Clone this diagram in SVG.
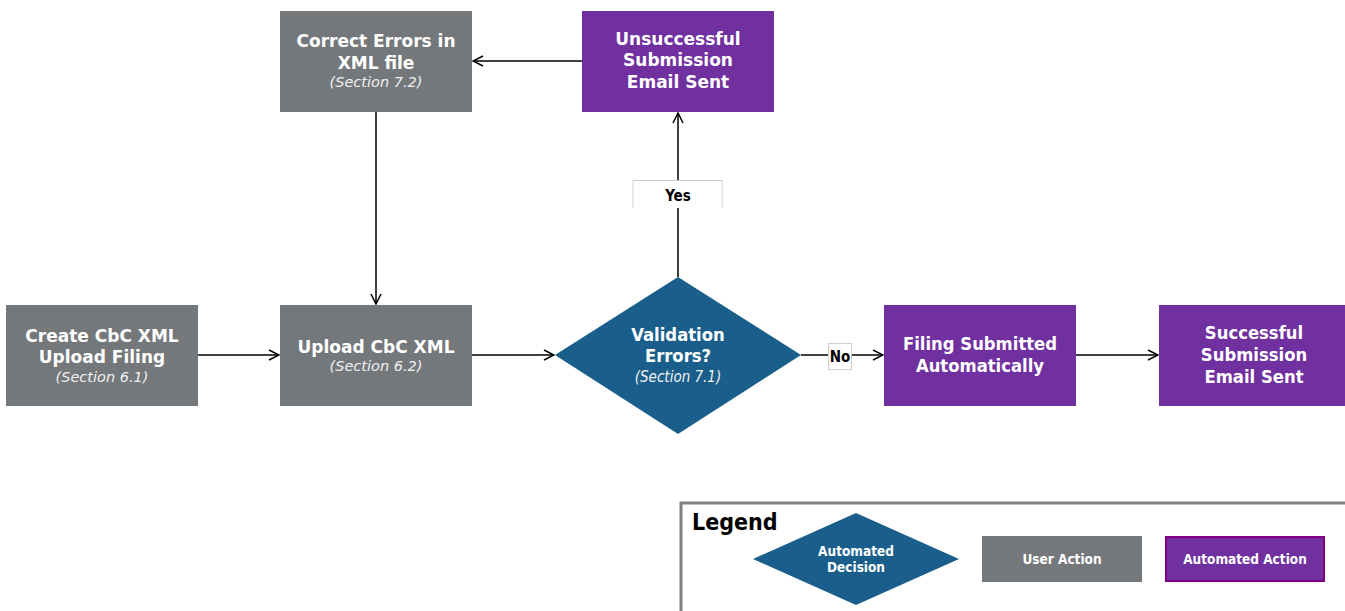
<svg xmlns="http://www.w3.org/2000/svg" width="1345" height="611" viewBox="0 0 1345 611">
<style>
.user{fill:#75787b}
.auto{fill:#7030a0}
.dec{fill:#1a5f8b}
.t{font-family:"DejaVu Sans","Noto Sans",sans-serif;font-weight:bold;font-size:17px;fill:#fff;text-anchor:middle}
.c{font-family:"DejaVu Sans Condensed","DejaVu Sans",sans-serif;font-stretch:condensed;font-weight:bold;font-size:18.3px;fill:#fff;text-anchor:middle}
.s{font-family:"DejaVu Sans","Noto Sans",sans-serif;font-style:italic;font-size:14.5px;fill:#f0f0f0;text-anchor:middle}
.sc{font-family:"DejaVu Sans Condensed","DejaVu Sans",sans-serif;font-stretch:condensed;font-style:italic;font-size:15px;fill:#f0f0f0;text-anchor:middle}
.lbl{font-family:"DejaVu Sans Condensed","DejaVu Sans",sans-serif;font-weight:bold;font-size:15px;fill:#000;text-anchor:middle}
.conn{stroke:#000;stroke-width:1.5;fill:none;marker-end:url(#arr)}
.lg{font-family:"DejaVu Sans Condensed","DejaVu Sans",sans-serif;font-stretch:condensed;font-weight:bold;font-size:13.5px;fill:#fff;text-anchor:middle}
</style>
<defs>
<marker id="arr" viewBox="0 0 12 12" refX="11" refY="6" markerWidth="12" markerHeight="12" markerUnits="userSpaceOnUse" orient="auto">
<path d="M1,1 L11,6 L1,11" fill="none" stroke="#000" stroke-width="1.5"/>
</marker>
</defs>
<rect width="1345" height="611" fill="#fff"/>
<g id="connectors">
<path class="conn" d="M582,61 H473"/>
<path class="conn" d="M376,112 V304"/>
<path class="conn" d="M198,355 H279"/>
<path class="conn" d="M472,355 H554"/>
<path class="conn" d="M678,277 V113"/>
<path class="conn" d="M801,355 H883"/>
<path class="conn" d="M1076,355 H1158"/>
</g>
<g id="label-yes">
<path d="M633,208 V180.5 H722 V208" fill="#fff" stroke="#c8c8c8" stroke-width="1"/>
<rect x="633.5" y="181" width="88" height="27" fill="#fff"/>
<text class="lbl" x="678" y="201">Yes</text>
</g>
<g id="label-no">
<rect x="828.5" y="343.5" width="23" height="26" fill="#fff" stroke="#d0d0d0" stroke-width="1"/>
<text class="lbl" x="840" y="362">No</text>
</g>
<g id="correct-errors">
<rect class="user" x="280" y="11" width="192" height="101"/>
<text class="t" x="376" y="47">Correct Errors in</text>
<text class="t" x="376" y="69">XML file</text>
<text class="s" x="376" y="87">(Section 7.2)</text>
</g>
<g id="unsuccessful">
<rect class="auto" x="582" y="11" width="192" height="101"/>
<text class="t" x="678" y="45">Unsuccessful</text>
<text class="t" x="678" y="66">Submission</text>
<text class="t" x="678" y="88">Email Sent</text>
</g>
<g id="create">
<rect class="user" x="6" y="305" width="192" height="101"/>
<text class="t" x="102" y="342">Create CbC XML</text>
<text class="t" x="102" y="363">Upload Filing</text>
<text class="s" x="102" y="382">(Section 6.1)</text>
</g>
<g id="upload">
<rect class="user" x="280" y="305" width="192" height="101"/>
<text class="t" x="376" y="353">Upload CbC XML</text>
<text class="s" x="376" y="371">(Section 6.2)</text>
</g>
<g id="validation">
<polygon class="dec" points="678,277 801,355 678,434 555,355"/>
<text class="c" x="678" y="341">Validation</text>
<text class="c" x="678" y="362">Errors?</text>
<text class="sc" x="678" y="382">(Section 7.1)</text>
</g>
<g id="filing">
<rect class="auto" x="884" y="305" width="192" height="101"/>
<text class="c" x="980" y="350">Filing Submitted</text>
<text class="c" x="980" y="372">Automatically</text>
</g>
<g id="successful">
<rect class="auto" x="1159" y="305" width="187" height="101"/>
<text class="c" x="1254" y="339">Successful</text>
<text class="c" x="1254" y="361">Submission</text>
<text class="c" x="1254" y="383">Email Sent</text>
</g>
<g id="legend">
<path d="M681,612 V503 H1346" fill="none" stroke="#7f7f7f" stroke-width="3"/>
<text x="692" y="530" font-family="'DejaVu Sans Condensed','DejaVu Sans',sans-serif" font-stretch="condensed" font-weight="bold" font-size="23" fill="#000">Legend</text>
<polygon class="dec" points="856,513 959,559 856,605 753,559"/>
<text class="lg" x="856" y="556">Automated</text>
<text class="lg" x="856" y="572">Decision</text>
<rect class="user" x="982" y="536" width="160" height="46"/>
<text class="lg" x="1062" y="564">User Action</text>
<rect class="auto" x="1166" y="537" width="158" height="44" stroke="#800080" stroke-width="2"/>
<text class="lg" x="1245" y="564">Automated Action</text>
</g>
</svg>
